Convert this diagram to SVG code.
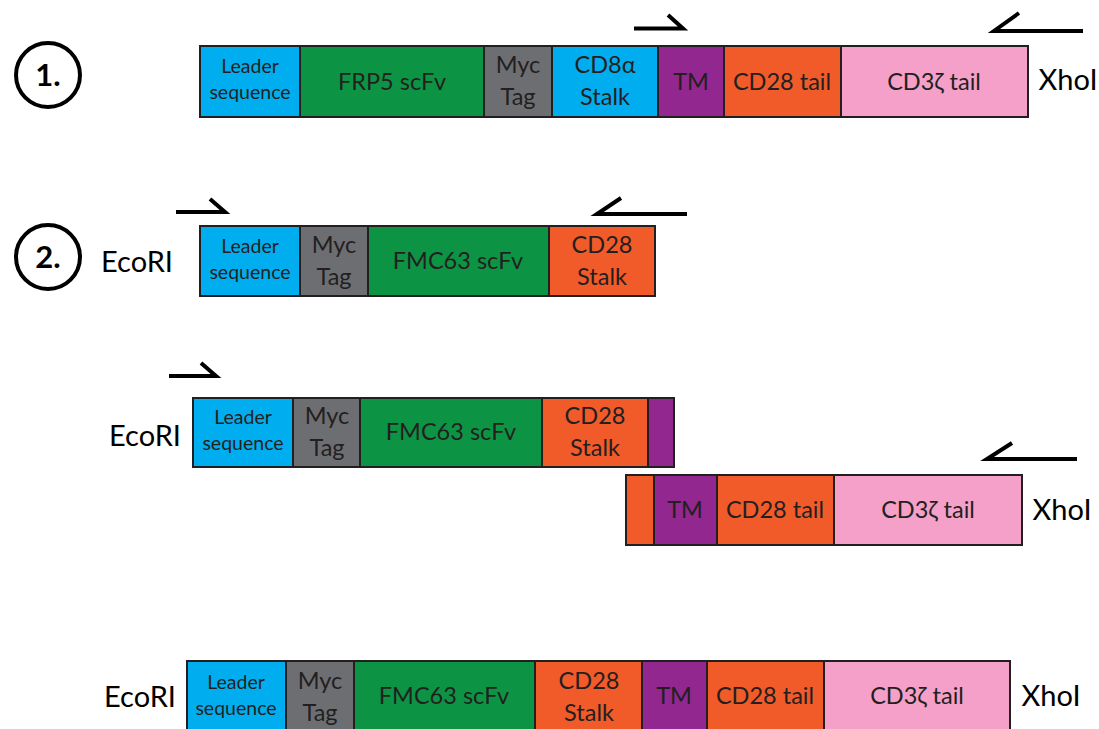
<svg xmlns="http://www.w3.org/2000/svg" width="1099" height="729" viewBox="0 0 1099 729">
<style>
.s{stroke:#231f20;stroke-width:2}
.b{fill:#00aeef}.g{fill:#0c9444}.m{fill:#6d6e71}.p{fill:#92278f}.o{fill:#f15a29}.k{fill:#f4a0c8}
text{font-family:"Lato","Open Sans",sans-serif;fill:#231f20;text-anchor:middle}
.sm{font-size:19.5px}.md{font-size:23.5px}
.lab{font-size:29px;fill:#000}
.num{font-size:31px;font-weight:bold;fill:#000}
.pr{fill:none;stroke:#000;stroke-width:4}
.c{fill:none;stroke:#000;stroke-width:4}
</style>
<g id="marker1"><circle class="c" cx="48" cy="75" r="32"/><text class="num" x="48" y="86">1.</text></g>
<g id="marker2"><circle class="c" cx="48" cy="257" r="32"/><text class="num" x="48" y="268">2.</text></g>

<g id="construct1">
<rect class="s b" x="200" y="46" width="100" height="71"/>
<rect class="s g" x="300" y="46" width="184" height="71"/>
<rect class="s m" x="484" y="46" width="68" height="71"/>
<rect class="s b" x="552" y="46" width="106" height="71"/>
<rect class="s p" x="658" y="46" width="66" height="71"/>
<rect class="s o" x="724" y="46" width="117" height="71"/>
<rect class="s k" x="841" y="46" width="187" height="71"/>
<text class="sm" x="250" y="73">Leader</text><text class="sm" x="250" y="99">sequence</text>
<text class="md" x="392" y="90">FRP5 scFv</text>
<text class="md" x="518" y="73">Myc</text><text class="md" x="518" y="105">Tag</text>
<text class="md" x="605" y="73">CD8α</text><text class="md" x="605" y="105">Stalk</text>
<text class="md" x="691" y="90">TM</text>
<text class="md" x="782" y="90">CD28 tail</text>
<text class="md" x="934" y="90">CD3ζ tail</text>
<text class="lab" x="1068" y="90">XhoI</text>
</g>

<g id="construct2">
<rect class="s b" x="200" y="226" width="100" height="70"/>
<rect class="s m" x="300" y="226" width="68" height="70"/>
<rect class="s g" x="368" y="226" width="181" height="70"/>
<rect class="s o" x="549" y="226" width="106" height="70"/>
<text class="sm" x="250" y="253">Leader</text><text class="sm" x="250" y="279">sequence</text>
<text class="md" x="334" y="253">Myc</text><text class="md" x="334" y="285">Tag</text>
<text class="md" x="458" y="269">FMC63 scFv</text>
<text class="md" x="602" y="253">CD28</text><text class="md" x="602" y="285">Stalk</text>
<text class="lab" x="137" y="272">EcoRI</text>
</g>

<g id="construct3">
<rect class="s b" x="193" y="398" width="100" height="69"/>
<rect class="s m" x="293" y="398" width="67" height="69"/>
<rect class="s g" x="360" y="398" width="182" height="69"/>
<rect class="s o" x="542" y="398" width="106" height="69"/>
<rect class="s p" x="648" y="398" width="26" height="69"/>
<text class="sm" x="243" y="424">Leader</text><text class="sm" x="243" y="450">sequence</text>
<text class="md" x="327" y="424">Myc</text><text class="md" x="327" y="456">Tag</text>
<text class="md" x="451" y="440">FMC63 scFv</text>
<text class="md" x="595" y="424">CD28</text><text class="md" x="595" y="456">Stalk</text>
<text class="lab" x="145" y="446">EcoRI</text>
</g>

<g id="construct4">
<rect class="s o" x="626" y="475" width="28" height="70"/>
<rect class="s p" x="654" y="475" width="63" height="70"/>
<rect class="s o" x="717" y="475" width="117" height="70"/>
<rect class="s k" x="834" y="475" width="188" height="70"/>
<text class="md" x="685" y="518">TM</text>
<text class="md" x="775" y="518">CD28 tail</text>
<text class="md" x="928" y="518">CD3ζ tail</text>
<text class="lab" x="1062" y="520">XhoI</text>
</g>

<g id="construct5">
<rect class="s b" x="187" y="661" width="99" height="72"/>
<rect class="s m" x="286" y="661" width="68" height="72"/>
<rect class="s g" x="354" y="661" width="181" height="72"/>
<rect class="s o" x="535" y="661" width="107" height="72"/>
<rect class="s p" x="642" y="661" width="65" height="72"/>
<rect class="s o" x="707" y="661" width="117" height="72"/>
<rect class="s k" x="824" y="661" width="186" height="72"/>
<text class="sm" x="236" y="689">Leader</text><text class="sm" x="236" y="715">sequence</text>
<text class="md" x="320" y="689">Myc</text><text class="md" x="320" y="721">Tag</text>
<text class="md" x="444" y="704">FMC63 scFv</text>
<text class="md" x="589" y="689">CD28</text><text class="md" x="589" y="721">Stalk</text>
<text class="md" x="674" y="704">TM</text>
<text class="md" x="765" y="704">CD28 tail</text>
<text class="md" x="917" y="704">CD3ζ tail</text>
<text class="lab" x="140" y="707">EcoRI</text>
<text class="lab" x="1051" y="706">XhoI</text>
</g>

<g id="connectors">
<path class="pr" d="M634 28.5H683L668 15"/>
<path class="pr" d="M1083 31H994L1019 13"/>
<path class="pr" d="M176 212H225L210 199"/>
<path class="pr" d="M687 214H597L621 198"/>
<path class="pr" d="M169 376H216L201 363"/>
<path class="pr" d="M1077 459H987L1012 443"/>
</g>
</svg>
